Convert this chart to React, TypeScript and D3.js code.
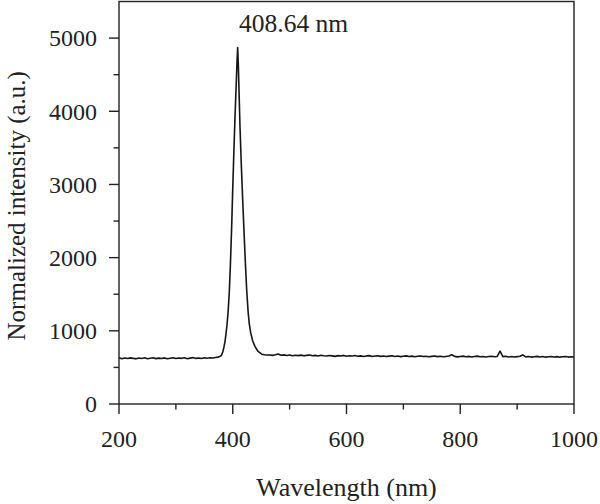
import { useRef, useEffect } from "react"
import * as d3 from "d3"

// left baseline, 200..370 nm every 5 nm
const leftStart = 200
const leftIntensity = [
  632, 618, 628, 621, 630, 624, 617, 629, 622, 631, 619, 626, 633, 620, 627, 622, 630,
  618, 625, 632, 621, 628, 624, 631, 619, 627, 634, 623, 629, 621, 632, 626, 633, 629, 636,
]

// emission peak region
const peakWavelength = [
  374, 377, 380, 382.5, 384.6, 386.5, 388.1, 390, 392, 394, 396, 398, 400, 402, 404, 406, 407.5,
  408.64, 409.8, 411, 412.7, 415, 417.5, 420, 422, 424.5, 427, 429, 431.5, 435, 439, 444, 451, 456, 460,
]
const peakIntensity = [
  640, 648, 665, 710, 780, 860, 960, 1090, 1280, 1540, 1930, 2400, 2950, 3450, 3930, 4350, 4680,
  4870, 4640, 4290, 3800, 3280, 2780, 2320, 1960, 1560, 1260, 1100, 975, 865, 788, 724, 681, 672, 670,
]

// right baseline, 465..1000 nm every 5 nm
const rightStart = 465
const rightIntensity = [
  670, 664, 672, 684, 666, 671, 663, 669, 660, 667,
  661, 668, 658, 665, 670, 659, 664, 657, 666, 660,
  655, 663, 658, 651, 661, 656, 664, 653, 659, 655,
  662, 652, 658, 650, 657, 661, 649, 655, 659, 651,
  656, 648, 654, 660, 650, 655, 647, 653, 658, 649,
  654, 646, 652, 657, 648, 653, 645, 651, 656, 647,
  652, 645, 650, 655, 672, 651, 644, 650, 654, 646,
  651, 643, 649, 654, 645, 650, 642, 648, 653, 645,
  650, 722, 647, 652, 643, 649, 642, 647, 652, 671,
  644, 649, 641, 646, 651, 643, 648, 640, 645, 650,
  642, 647, 640, 645, 649, 641, 646, 643,
]

const xMajor = [200, 400, 600, 800, 1000]
const xMinor = [300, 500, 700, 900]
const yMajor = [0, 1000, 2000, 3000, 4000, 5000]
const yMinor = [500, 1500, 2500, 3500, 4500]

const peakLabel = "408.64 nm"

export default function App() {
  const svgRef = useRef<SVGSVGElement>(null)

  useEffect(() => {
    if (!svgRef.current) return
    const svg = d3.select(svgRef.current)
    svg.selectAll("*").remove()

    const width = 600
    const height = 504
    const margin = { top: 1.5, right: 26, bottom: 100, left: 119 }
    const font = "'Liberation Serif', 'Times New Roman', serif"

    const data: [number, number][] = [
      ...leftIntensity.map((v, i) => [leftStart + i * 5, v] as [number, number]),
      ...peakWavelength.map((w, i) => [w, peakIntensity[i]] as [number, number]),
      ...rightIntensity.map((v, i) => [rightStart + i * 5, v] as [number, number]),
    ]

    const x = d3.scaleLinear().domain([200, 1000]).range([margin.left, width - margin.right])
    const y = d3.scaleLinear().domain([0, 5500]).range([height - margin.bottom, margin.top])

    const x0 = x(200)
    const x1 = x(1000)
    const y0 = y(0)
    const y1 = y(5500)

    // spectrum
    const line = d3
      .line<[number, number]>()
      .x((d) => x(d[0]))
      .y((d) => y(d[1]))
    svg
      .append("path")
      .datum(data)
      .attr("d", line)
      .attr("fill", "none")
      .attr("stroke", "#151515")
      .attr("stroke-width", 1.6)
      .attr("stroke-linejoin", "round")

    // frame
    svg
      .append("rect")
      .attr("x", x0)
      .attr("y", y1)
      .attr("width", x1 - x0)
      .attr("height", y0 - y1)
      .attr("fill", "none")
      .attr("stroke", "#222")
      .attr("stroke-width", 1.4)

    // x ticks
    const xt = svg.append("g").attr("stroke", "#222").attr("stroke-width", 1.4)
    xMajor.forEach((v) => {
      xt.append("line").attr("x1", x(v)).attr("x2", x(v)).attr("y1", y0).attr("y2", y0 + 10)
    })
    xMinor.forEach((v) => {
      xt.append("line").attr("x1", x(v)).attr("x2", x(v)).attr("y1", y0).attr("y2", y0 + 5.5)
    })
    svg
      .append("g")
      .selectAll("text")
      .data(xMajor)
      .join("text")
      .attr("x", (d) => x(d))
      .attr("y", 447)
      .attr("text-anchor", "middle")
      .attr("font-family", font)
      .attr("font-size", 24)
      .attr("fill", "#222")
      .text((d) => d)

    // y ticks
    const yt = svg.append("g").attr("stroke", "#222").attr("stroke-width", 1.4)
    yMajor.forEach((v) => {
      yt.append("line").attr("x1", x0 - 10).attr("x2", x0).attr("y1", y(v)).attr("y2", y(v))
    })
    yMinor.forEach((v) => {
      yt.append("line").attr("x1", x0 - 5.5).attr("x2", x0).attr("y1", y(v)).attr("y2", y(v))
    })
    svg
      .append("g")
      .selectAll("text")
      .data(yMajor)
      .join("text")
      .attr("x", 97)
      .attr("y", (d) => y(d))
      .attr("dy", "0.35em")
      .attr("text-anchor", "end")
      .attr("font-family", font)
      .attr("font-size", 24)
      .attr("fill", "#222")
      .text((d) => d)

    // axis titles
    svg
      .append("text")
      .attr("x", (x0 + x1) / 2)
      .attr("y", 496)
      .attr("text-anchor", "middle")
      .attr("font-family", font)
      .attr("font-size", 26)
      .attr("fill", "#222")
      .text("Wavelength (nm)")

    svg
      .append("text")
      .attr("transform", `translate(25, ${(y0 + y1) / 2 + 3}) rotate(-90)`)
      .attr("text-anchor", "middle")
      .attr("font-family", font)
      .attr("font-size", 25)
      .attr("fill", "#222")
      .text("Normalized intensity (a.u.)")

    // peak annotation
    svg
      .append("text")
      .attr("x", 239)
      .attr("y", 32)
      .attr("font-family", font)
      .attr("font-size", 25.5)
      .attr("fill", "#222")
      .text(peakLabel)
  }, [])

  return (
    <svg
      ref={svgRef}
      width={600}
      height={504}
      style={{ position: "fixed", left: 0, top: 0, background: "white" }}
    />
  )
}
